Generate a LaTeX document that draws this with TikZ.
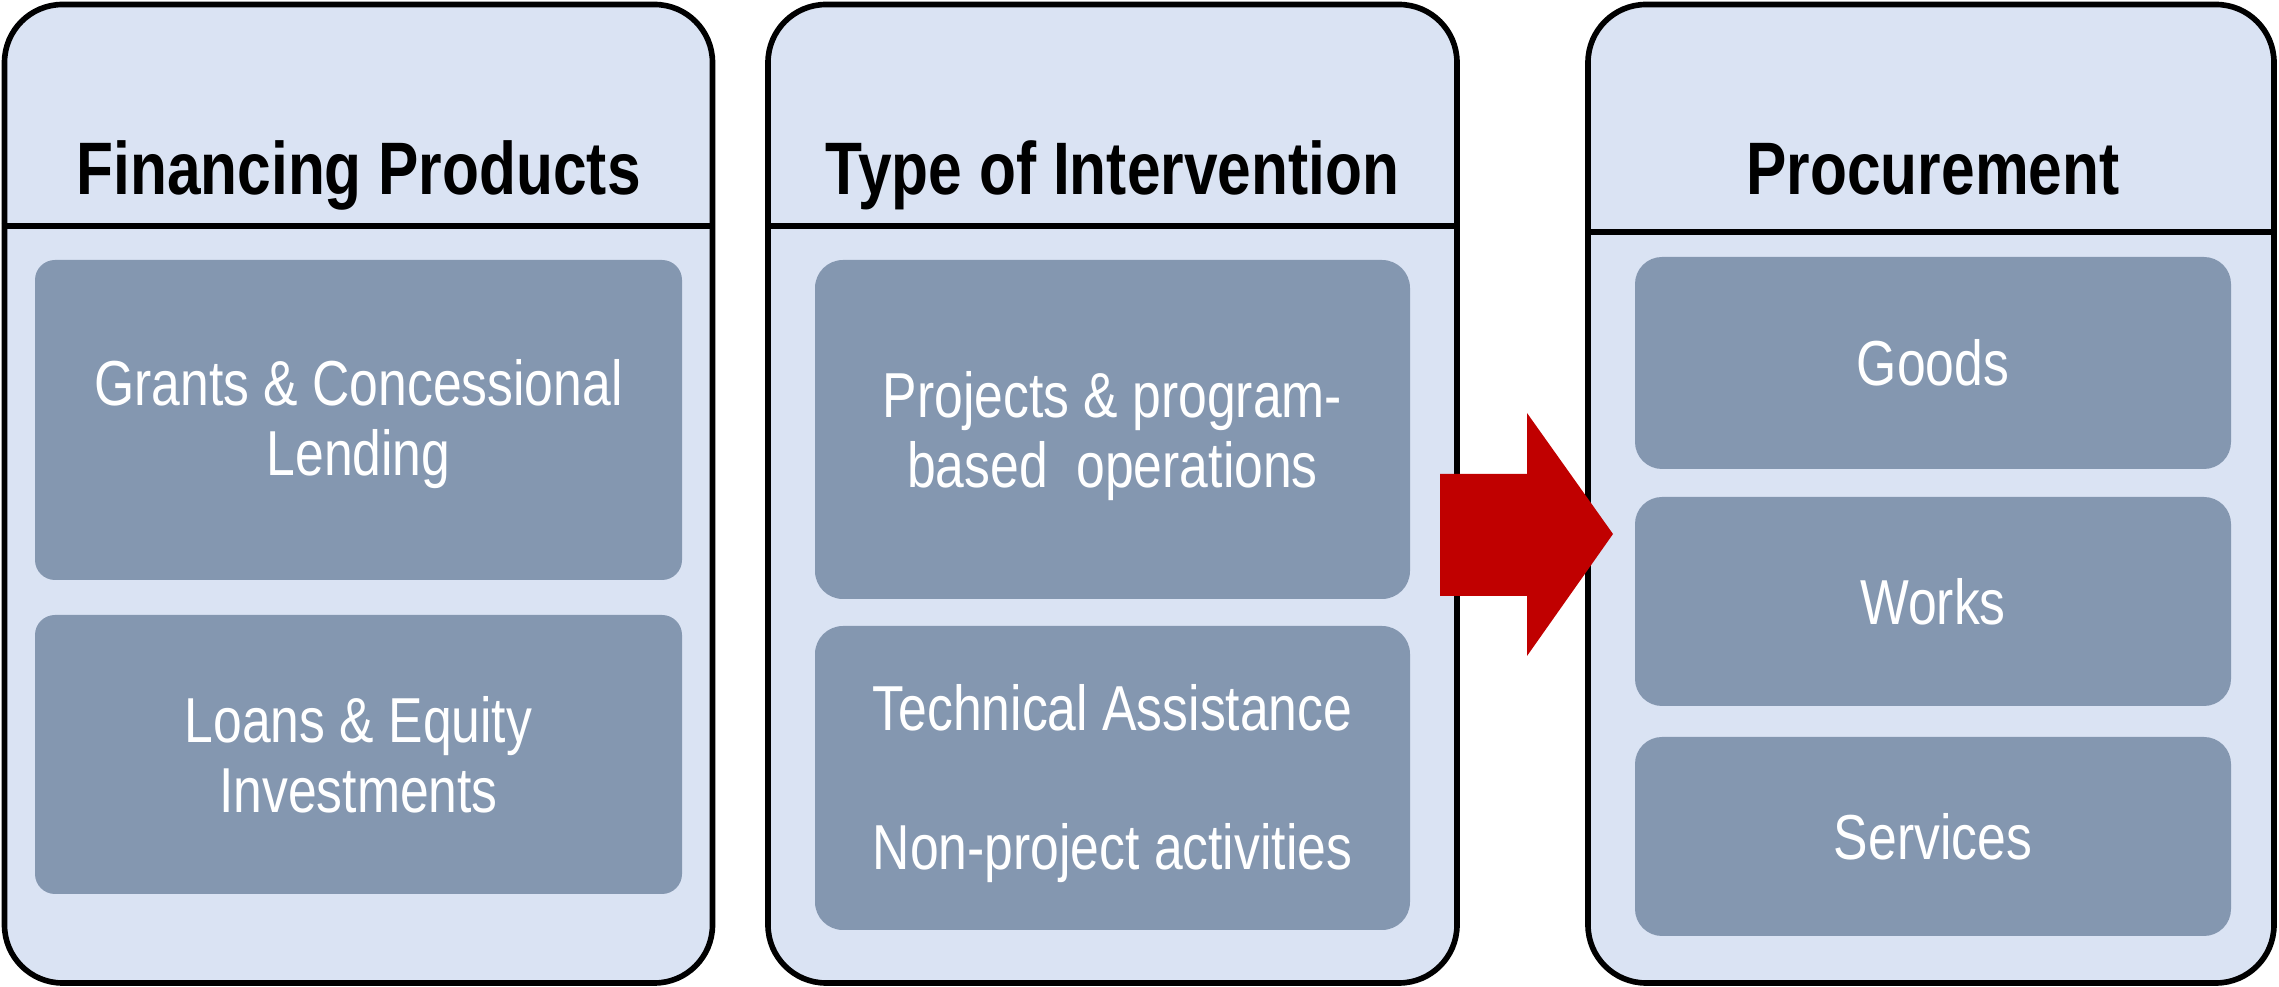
\documentclass[tikz,border=0pt]{standalone}
\usepackage{fontspec}
\setmainfont{Liberation Sans}

\definecolor{panelfill}{HTML}{DAE3F3}
\definecolor{itemfill}{HTML}{8497B0}
\definecolor{arrowred}{HTML}{C00000}

% stacked lines, stretched upwards like the original slide
\newcommand{\tallstack}[1]{\scalebox{1}[1.23]{\begin{tabular}[t]{@{}c@{}}#1\end{tabular}}}

\tikzset{
	panel/.style={draw, line width=1.6pt, fill=panelfill, rounded corners=0.58cm, minimum height=9.785cm, inner sep=0pt},
	item/.style={fill=itemfill, inner sep=0pt},
	headtext/.style={anchor=base, inner sep=0pt, font=\fontsize{17.2}{20}\selectfont\bfseries},
	itemtext/.style={anchor=base, inner sep=0pt, text=white, font=\fontsize{14.7}{16.1}\selectfont}
}

\begin{document}
\begin{tikzpicture}
	\useasboundingbox (0,0) rectangle (22.79,9.87);

	% Column 1: Financing Products
	\node[panel, minimum width=7.08cm] (fin) at (3.585,4.9325) {};
	\coordinate (finsplit) at (0,7.61);
	\draw[line width=1.6pt] (fin.west |- finsplit) -- (fin.east |- finsplit);
	\node[headtext] (fintitle) at (3.585,7.927) {\tallstack{Financing Products}};
	\node[item, rounded corners=0.2cm, minimum width=6.47cm, minimum height=3.20cm] (grants) at (3.585,5.67) {};
	\node[itemtext] (grantstext) at (3.585,5.81) {\tallstack{Grants \& Concessional\\Lending}};
	\node[item, rounded corners=0.2cm, minimum width=6.47cm, minimum height=2.79cm] (loans) at (3.585,2.325) {};
	\node[itemtext] (loanstext) at (3.585,2.445) {\tallstack{Loans \& Equity\\Investments}};

	% Column 2: Type of Intervention
	\node[panel, minimum width=6.89cm] (type) at (11.125,4.9325) {};
	\coordinate (typesplit) at (0,7.61);
	\draw[line width=1.6pt] (type.west |- typesplit) -- (type.east |- typesplit);
	\node[headtext] (typetitle) at (11.125,7.927) {\tallstack{Type of Intervention}};
	\node[item, rounded corners=0.28cm, minimum width=5.95cm, minimum height=3.39cm] (projects) at (11.125,5.575) {};
	\node[itemtext] (projectstext) at (11.125,5.695) {\tallstack{Projects \& program-\\based~~operations}};
	\node[item, rounded corners=0.28cm, minimum width=5.95cm, minimum height=3.04cm] (assist) at (11.125,2.09) {};
	\node[itemtext] (assisttext) at (11.125,2.563) {\tallstack{Technical Assistance\\ \\Non-project activities}};

	% Column 3: Procurement
	\node[panel, minimum width=6.86cm] (proc) at (19.31,4.9325) {};
	\coordinate (procsplit) at (0,7.55);
	\draw[line width=1.6pt] (proc.west |- procsplit) -- (proc.east |- procsplit);
	\node[headtext] (proctitle) at (19.33,7.927) {\tallstack{Procurement}};
	\node[item, rounded corners=0.27cm, minimum width=5.96cm, minimum height=2.12cm] (goods) at (19.33,6.24) {};
	\node[itemtext] (goodstext) at (19.33,6.01) {\tallstack{Goods}};
	\node[item, rounded corners=0.27cm, minimum width=5.96cm, minimum height=2.09cm] (works) at (19.33,3.855) {};
	\node[itemtext] (workstext) at (19.33,3.625) {\tallstack{Works}};
	\node[item, rounded corners=0.27cm, minimum width=5.96cm, minimum height=1.99cm] (services) at (19.33,1.505) {};
	\node[itemtext] (servicestext) at (19.33,1.275) {\tallstack{Services}};

	% Block arrow from column 2 into column 3
	\fill[arrowred] (14.40,5.13) -- (15.27,5.13) -- (15.27,5.74) -- (16.13,4.53)
		-- (15.27,3.31) -- (15.27,3.91) -- (14.40,3.91) -- cycle;
\end{tikzpicture}
\end{document}
